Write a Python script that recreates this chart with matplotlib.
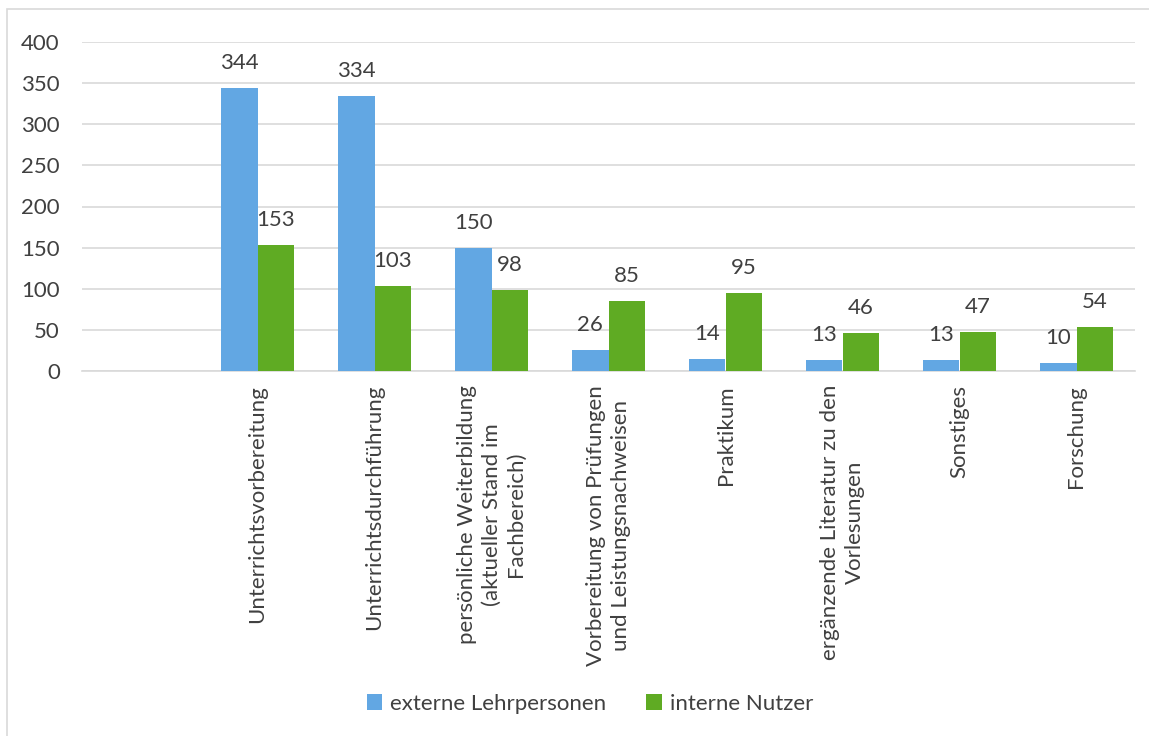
import matplotlib
matplotlib.use("Agg")
import matplotlib.pyplot as plt
from matplotlib.patches import Rectangle
import numpy as np

plt.rcParams["font.family"] = ["Lato", "DejaVu Sans"]

# data (first category is empty in the original chart)
categories = [
    "",
    "Unterrichtsvorbereitung",
    "Unterrichtsdurchführung",
    "persönliche Weiterbildung\n(aktueller Stand im\nFachbereich)",
    "Vorbereitung von Prüfungen\nund Leistungsnachweisen",
    "Praktikum",
    "ergänzende Literatur zu den\nVorlesungen",
    "Sonstiges",
    "Forschung",
]
externe = [None, 344, 334, 150, 26, 14, 13, 13, 10]
interne = [None, 153, 103, 98, 85, 95, 46, 47, 54]
series_names = ["externe Lehrpersonen", "interne Nutzer"]
yticks = [0, 50, 100, 150, 200, 250, 300, 350, 400]

BLUE = "#62a7e3"
GREEN = "#5fab23"
GRID = "#d9d9d9"
TEXT = "#404040"
FS = 16

W, H = 1149, 736
fig = plt.figure(figsize=(W / 100, H / 100), dpi=100)

# outer chart frame
fig.patches.append(Rectangle((7 / W, -0.01), 1.1, 1 - 9 / H + 0.01, transform=fig.transFigure,
                             fill=False, edgecolor=GRID, linewidth=1.2))

ax = fig.add_axes([82 / W, (H - 371) / H, 1053 / W, 329 / H])

x = np.arange(len(categories))
bw = 0.31
ext_vals = [np.nan if v is None else v for v in externe]
int_vals = [np.nan if v is None else v for v in interne]
b1 = ax.bar(x - bw / 2, ext_vals, bw, color=BLUE, label=series_names[0], zorder=3)
b2 = ax.bar(x + bw / 2, int_vals, bw, color=GREEN, label=series_names[1], zorder=3)

for bars, vals in ((b1, externe), (b2, interne)):
    for rect, v in zip(bars, vals):
        if v is None:
            continue
        ax.annotate(str(v), (rect.get_x() + rect.get_width() / 2, v),
                    xytext=(0, 18), textcoords="offset points",
                    ha="center", va="center", fontsize=FS, color=TEXT)

ax.set_xlim(-0.5, len(categories) - 0.5)
ax.set_ylim(0, 400)
ax.set_yticks(yticks)
ax.set_yticklabels([str(t) for t in yticks], fontsize=FS, color=TEXT)
ax.yaxis.grid(True, color=GRID, linewidth=1.2, zorder=0)
ax.set_axisbelow(True)
ax.tick_params(axis="both", length=0)
ax.tick_params(axis="y", pad=16)
ax.tick_params(axis="x", pad=10)

ax.set_xticks(x)
ax.set_xticklabels(categories, rotation=90, fontsize=FS, color=TEXT)
for lbl in ax.get_xticklabels():
    lbl.set_multialignment("center")
    lbl.set_verticalalignment("top")
    lbl.set_linespacing(1.3)

for side in ("top", "right", "left"):
    ax.spines[side].set_visible(False)
ax.spines["bottom"].set_color(GRID)
ax.spines["bottom"].set_linewidth(1.2)

fig.legend(handles=[b1, b2], labels=series_names, loc="center",
           bbox_to_anchor=(590 / W, 1 - 704 / H), ncol=2, frameon=False,
           fontsize=FS, handlelength=0.7, handleheight=0.7,
           handletextpad=0.35, columnspacing=1.8, labelcolor=TEXT)

fig.savefig("out.png", dpi=100)
